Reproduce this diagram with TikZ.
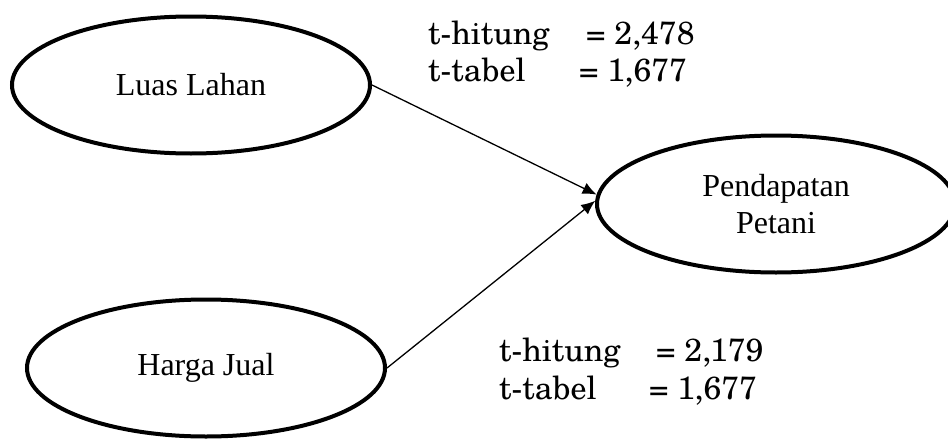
\documentclass[tikz,border=0pt]{standalone}
\usepackage{fontspec}
\newfontfamily\ellfont{Liberation Serif}
\newfontfamily\statfont{TeX Gyre Schola}
\usetikzlibrary{shapes.geometric,arrows.meta}
\tikzset{
  var/.style={ellipse, draw, line width=4pt, minimum width=358pt, minimum height=137pt,
    inner sep=0pt, align=center, font=\ellfont\fontsize{32}{37}\selectfont},
  link/.style={-{Latex[length=14pt,width=12pt]}, line width=1.3pt},
  stat/.style={anchor=base west, inner sep=0pt, font=\statfont\fontsize{32}{40}\selectfont}
}
\begin{document}
\begin{tikzpicture}[x=1pt,y=-1pt]
\useasboundingbox (0,0) rectangle (948,439);
% variables
\node[var] (luas) at (191,85) {Luas Lahan};
\node[var] (harga) at (206,368) {Harga Jual};
\node[var] (pend) at (776,204) {Pendapatan\\Petani};
% effects
\draw[link] (luas.east) -- (pend.177);
\draw[link] (harga.east) -- (pend.179);
% test statistics
\node[stat] (h1) at (428,44) {t-hitung};
\node[stat] (h1v) at (586,44) {= 2,478};
\node[stat] (t1) at (428,81) {t-tabel};
\node[stat] (t1v) at (579,81) {= 1,677};
\node[stat] (h2) at (499,361) {t-hitung};
\node[stat] (h2v) at (656,361) {= 2,179};
\node[stat] (t2) at (499,399) {t-tabel};
\node[stat] (t2v) at (649,399) {= 1,677};
\end{tikzpicture}
\end{document}
